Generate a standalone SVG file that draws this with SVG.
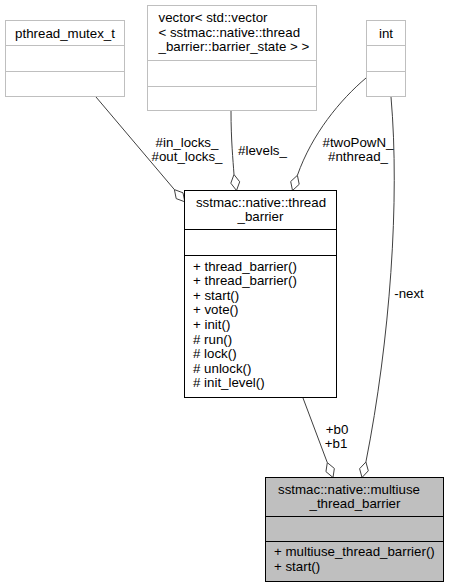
<svg xmlns="http://www.w3.org/2000/svg" width="449" height="588" viewBox="0 0 449 588">
<style>
text{font-family:"Liberation Sans",Arial,Helvetica,sans-serif;font-size:13.3px;fill:#000}
.m{text-anchor:middle}
.ext{fill:#fff;stroke:#bfbfbf;stroke-width:1}
.box{fill:#fff;stroke:#000;stroke-width:1}
.cur{fill:#bfbfbf;stroke:#000;stroke-width:1}
.e{fill:none;stroke:#404040;stroke-width:1}
.d{fill:#fff;stroke:#404040;stroke-width:1}
</style>
<rect width="449" height="588" fill="#fff"/>
<g id="connectors">
<path class="e" d="M96,97 L174.4,189.6"/>
<polygon class="d" points="174.4,189.6 176.2,198.6 184.8,201.8 183.0,192.8"/>
<path class="e" d="M231,111 C231,140 233,160 234,174.5"/>
<polygon class="d" points="234,174.5 230.8,183.2 236.5,190.5 239.7,181.8"/>
<path class="e" d="M366,78 C340,100 312,134 297.4,175.3"/>
<polygon class="d" points="297.4,175.3 299.2,184.3 292.5,190.5 290.7,181.5"/>
<path class="e" d="M391,97 C400,200 390,340 365.9,462"/>
<polygon class="d" points="365.9,462 368.3,470.8 362,477.5 359.6,468.7"/>
<path class="e" d="M303,398 L327.3,462.6"/>
<polygon class="d" points="327.3,462.6 325.95,471.65 333,477.5 334.35,468.45"/>
<text class="m" x="187" y="147">#in_locks_</text>
<text class="m" x="187" y="161">#out_locks_</text>
<text class="m" x="262.5" y="154.5">#levels_</text>
<text class="m" x="358" y="147">#twoPowN_</text>
<text class="m" x="358" y="161">#nthread_</text>
<text class="m" x="409" y="297.5">-next</text>
<text class="m" x="337" y="433.5">+b0</text>
<text class="m" x="336" y="448">+b1</text>
</g>
<g id="pthread_mutex_t">
<rect class="ext" x="5.5" y="20.5" width="119" height="76"/>
<path d="M5.5,45.5H124.5M5.5,71.5H124.5" stroke="#bfbfbf"/>
<text class="m" x="65" y="37.5">pthread_mutex_t</text>
</g>
<g id="vector_barrier_state">
<rect class="ext" x="147.5" y="5.5" width="169" height="105"/>
<path d="M147.5,60.5H316.5M147.5,86.5H316.5" stroke="#bfbfbf"/>
<text x="158.5" y="22">vector&lt; std::vector</text>
<text x="158.5" y="36.6">&lt; sstmac::native::thread</text>
<text x="158.5" y="51.2">_barrier::barrier_state &gt; &gt;</text>
</g>
<g id="int">
<rect class="ext" x="366.5" y="20.5" width="39" height="76"/>
<path d="M366.5,45.5H405.5M366.5,71.5H405.5" stroke="#bfbfbf"/>
<text class="m" x="386" y="37.5">int</text>
</g>
<g id="thread_barrier">
<rect class="box" x="184.5" y="190.5" width="152" height="207"/>
<path d="M184.5,229.5H336.5M184.5,255.5H336.5" stroke="#000"/>
<text class="m" x="261" y="206.5">sstmac::native::thread</text>
<text class="m" x="260.5" y="221">_barrier</text>
<text x="193" y="270.5">+ thread_barrier()</text>
<text x="193" y="285.1">+ thread_barrier()</text>
<text x="193" y="299.7">+ start()</text>
<text x="193" y="314.3">+ vote()</text>
<text x="193" y="328.9">+ init()</text>
<text x="193" y="343.5"># run()</text>
<text x="193" y="358.1"># lock()</text>
<text x="193" y="372.7"># unlock()</text>
<text x="193" y="387.3"># init_level()</text>
</g>
<g id="multiuse_thread_barrier">
<rect class="cur" x="265.5" y="477.5" width="178" height="104"/>
<path d="M265.5,516.5H443.5M265.5,541.5H443.5" stroke="#000"/>
<text class="m" x="349" y="493.5">sstmac::native::multiuse</text>
<text class="m" x="355" y="508">_thread_barrier</text>
<text x="274" y="556">+ multiuse_thread_barrier()</text>
<text x="274" y="570.5">+ start()</text>
</g>
</svg>
